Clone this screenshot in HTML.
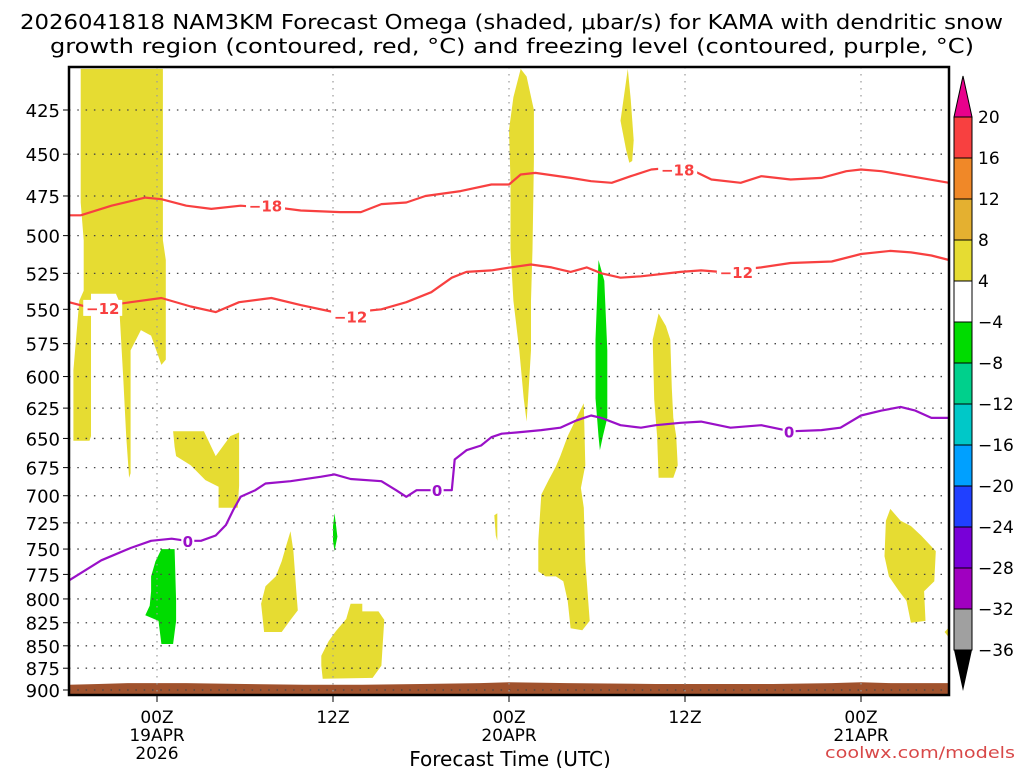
<!DOCTYPE html>
<html><head><meta charset="utf-8"><style>
html,body{margin:0;padding:0;background:#fff;width:1024px;height:768px;overflow:hidden}
svg{display:block;font-family:"DejaVu Sans","Liberation Sans",sans-serif}
</style></head><body>
<svg id="chart" width="1024" height="768" viewBox="0 0 1024 768" xmlns="http://www.w3.org/2000/svg">
<text x="20" y="29" font-size="20" textLength="983" lengthAdjust="spacingAndGlyphs">2026041818 NAM3KM Forecast Omega (shaded, μbar/s) for KAMA with dendritic snow</text>
<text x="50" y="53" font-size="20" textLength="924" lengthAdjust="spacingAndGlyphs">growth region (contoured, red, °C) and freezing level (contoured, purple, °C)</text>
<g id="shade"></g>
<g id="grid"></g>
<g id="lines"></g>
<g id="axes"></g>
<g id="cbar"></g>
<text x="510" y="766" font-size="20" text-anchor="middle">Forecast Time (UTC)</text>
<text x="1015" y="758" font-size="16" text-anchor="end" fill="#d84848" textLength="190" lengthAdjust="spacingAndGlyphs">coolwx.com/models</text>
</svg>
<script>
// ---- data ----
const pTicks=[425,450,475,500,525,550,575,600,625,650,675,700,725,750,775,800,825,850,875,900];
const xTickHours=[6,18,30,42,54];
const xTickLabels=[["00Z","19APR","2026"],["12Z"],["00Z","20APR"],["12Z"],["00Z","21APR"]];
const m18Hours=[0,0.8,2.9,5.2,6.3,8.0,9.7,11.7,13.1,14.1,15.8,18.5,19.9,21.3,23.0,24.3,26.7,28.8,30.0,30.8,31.8,34.2,35.6,37.0,38.3,39.7,41.0,42.4,43.8,45.8,47.2,49.2,51.3,53.0,54.0,55.4,60];
const m18Press=[487,487,481,476,477,481,483,481,482,482,484,485,485,480,479,475,472,468,468,462,461,464,466,467,463,459,458,459,465,467,463,465,464,460,459,460,467];
const m12Hours=[0,1.5,4.2,6.3,8.3,10.0,11.6,13.8,15.8,18.5,21.3,23.0,24.7,26.1,27.1,28.8,30.1,31.5,32.9,34.2,35.3,36.3,37.6,39.0,41.7,43.1,44.4,47.2,49.2,52.0,54.0,56.0,57.4,58.8,60];
const m12Press=[545,549,545,542,548,552,545,542,547,553,550,545,538,528,524,523,521,519,521,524,521,525,528,527,524,523,524,521,518,517,512,510,511,513,516];
const zHours=[0,2.2,4.2,5.6,7.0,8.0,9.0,10.0,10.7,11.2,11.7,12.7,13.4,15.1,17.2,18.1,19.2,21.3,22.3,23.0,23.7,25.4,26.1,26.3,27.1,28.1,28.8,29.5,30.5,32.2,33.5,34.6,35.6,36.3,37.6,39.0,40.0,41.7,43.1,45.1,47.2,49.2,51.3,52.6,54.0,55.4,56.7,57.7,58.8,60];
const zPress=[781,761,749,742,740,742,742,737,727,713,701,695,689,687,683,681,685,687,695,701,695,695,695,668,660,656,649,646,645,643,641,635,631,633,639,641,639,637,636,641,639,644,643,641,631,627,624,627,633,633];
const m18LabelPos=[[13.4,481],[41.5,459]];
const m12LabelPos=[[2.3,549],[19.2,555],[45.5,524]];
const zLabelPos=[[8.1,742],[25.1,695],[49.1,644]];
const groundHours=[0,2,4,8,12,16,20,24,28,30,34,40,48,52,54,56,60];
const groundPress=[894,893,892,892,893,894,894,893,892,891,892,893,893,892,891,892,892];
const yellowBlobs=[
 [[0.8,403],[6.4,403],[6.4,503],[6.6,516],[6.6,587],[6.3,591],[5.6,569],[4.9,565],[4.2,580],[4.2,680],[4.1,684],[3.9,648],[3.7,602],[3.4,544],[3.2,539],[1.5,539],[1.5,648],[1.4,652],[0.3,652],[0.3,595],[0.7,544],[1.0,537],[1.0,503],[0.8,479]],
 [[7.1,644],[9.2,644],[10.0,665],[11.0,648],[11.6,645],[11.6,691],[11.5,711],[10.2,711],[10.2,692],[9.3,686],[8.3,673],[7.3,665],[7.2,657]],
 [[30.0,436],[30.3,418],[30.8,403],[31.2,407],[31.7,425],[31.7,454],[31.6,509],[31.5,544],[31.5,580],[31.3,617],[31.2,636],[31.0,617],[30.7,580],[30.3,544],[30.1,509],[30.1,466]],
 [[37.6,431],[38.1,403],[38.3,419],[38.5,442],[38.4,454],[38.2,455],[38.0,448]],
 [[39.8,572],[40.2,553],[40.7,562],[41.0,572],[41.1,609],[41.2,633],[41.4,648],[41.5,673],[41.2,684],[40.2,684],[40.1,648],[39.9,618]],
 [[32.2,699],[32.7,686],[33.2,674],[33.5,665],[34.0,648],[34.6,633],[35.1,621],[35.2,673],[34.9,693],[35.1,711],[35.2,762],[35.5,823],[35.0,833],[34.2,831],[34.0,802],[33.7,782],[33.2,777],[32.5,777],[32.0,772],[32.0,742]],
 [[29.0,718],[29.2,716],[29.2,742],[29.1,737]],
 [[13.1,805],[13.4,787],[14.1,777],[14.5,762],[14.8,747],[15.1,733],[15.3,752],[15.5,792],[15.6,812],[15.1,822],[14.5,835],[13.3,835]],
 [[17.2,861],[17.7,845],[18.2,834],[18.9,821],[19.2,805],[20.0,805],[20.0,813],[21.1,813],[21.5,822],[21.4,845],[21.3,872],[20.7,886],[17.3,887],[17.2,872]],
 [[55.7,723],[56.0,712],[56.7,723],[57.4,728],[58.1,737],[59.1,752],[59.0,782],[58.3,792],[58.4,823],[57.4,825],[57.1,802],[56.6,792],[55.9,777],[55.6,757]],
 [[59.7,835],[60,830],[60,841]]
];
const greenBlobs=[
 [[5.6,777],[5.9,762],[6.3,750],[7.2,750],[7.3,802],[7.3,823],[7.1,848],[6.3,848],[6.1,823],[5.2,817],[5.5,807],[5.6,792]],
 [[35.9,572],[36.1,516],[36.5,530],[36.7,580],[36.7,633],[36.4,648],[36.2,660],[36.1,648],[35.9,617]],
 [[18.0,728],[18.1,716],[18.3,738],[18.1,752],[18.0,742]]
];
const cbarLevels=[20,16,12,8,4,-4,-8,-12,-16,-20,-24,-28,-32,-36];
const cbarColors=["#f84040","#f08828","#e4b030","#e6dc32","#ffffff","#00dc00","#00d08c","#00c8c8","#00a0ff","#2040ff","#7800d8","#a000c0","#a0a0a0"];
// ---- axes ----
const X0=69,X1=949,Y0=67,Y1=695,HMAX=60;
function xs(h){return X0+(X1-X0)*h/HMAX;}
function ys(p){return 110+773*Math.log(p/425);}
const NS="http://www.w3.org/2000/svg";
function mk(tag,attrs,parent){const e=document.createElementNS(NS,tag);for(const k in attrs)e.setAttribute(k,attrs[k]);parent.appendChild(e);return e;}
function pts(arr){return arr.map(d=>xs(d[0]).toFixed(1)+","+ys(d[1]).toFixed(1)).join(" ");}
const shade=document.getElementById('shade');
yellowBlobs.forEach(b=>{const e=mk('polygon',{points:pts(b),fill:'#e6dc32'},shade);

});
greenBlobs.forEach(b=>{const e=mk('polygon',{points:pts(b),fill:'#00dc00'},shade);

});
// ground
{let g=groundHours.map((h,i)=>[h,groundPress[i]]);let s=pts(g)+" "+xs(HMAX)+","+Y1+" "+xs(0)+","+Y1;
const e=mk('polygon',{points:s,fill:'#a0522d'},shade);

}
// grid
const grid=document.getElementById('grid');
pTicks.forEach(p=>{const e=mk('line',{x1:X0,x2:X1,y1:ys(p),y2:ys(p),stroke:'#444','stroke-width':1.3,'stroke-dasharray':'1.5,6.8'},grid);

});
xTickHours.forEach(h=>{const e=mk('line',{x1:xs(h),x2:xs(h),y1:Y0,y2:Y1,stroke:'#999','stroke-width':1.2,'stroke-dasharray':'1.5,5.5'},grid);

});
// contours
const lines=document.getElementById('lines');
function contour(hs,ps,color,name){const d=hs.map((h,i)=>(i?'L':'M')+xs(h).toFixed(1)+','+ys(ps[i]).toFixed(1)).join('');
const e=mk('path',{d:d,fill:'none',stroke:color,'stroke-width':2.2,'stroke-linejoin':'round'},lines);

}
contour(m18Hours,m18Press,'#f84040','contour-minus18');
contour(m12Hours,m12Press,'#f84040','contour-minus12');
contour(zHours,zPress,'#9a10c8','freezing-level-contour');
function clabel(pos,txt,color,name){pos.forEach(q=>{const x=xs(q[0]),y=ys(q[1]);
const r=mk('rect',{x:x-(txt.length*6.5),y:y-8,width:txt.length*13,height:16,fill:'#fff'},lines);


const t=mk('text',{x:x,y:y+6,'font-size':15,'font-weight':'bold','text-anchor':'middle',fill:color},lines);t.textContent=txt;

});}
clabel(m18LabelPos,'−18','#f84040','contour-label-minus18');
clabel(m12LabelPos,'−12','#f84040','contour-label-minus12');
clabel(zLabelPos,'0','#9a10c8','contour-label-zero');
// axes
const axes=document.getElementById('axes');
{const e=mk('rect',{x:X0,y:Y0,width:X1-X0,height:Y1-Y0,fill:'none',stroke:'#000','stroke-width':2.5},axes);

}
pTicks.forEach(p=>{const t=mk('text',{x:60,y:ys(p)+7,'font-size':18,'text-anchor':'end'},axes);t.textContent=p;


const l=mk('line',{x1:X0-6,x2:X0,y1:ys(p),y2:ys(p),stroke:'#000','stroke-width':1},axes);

});
xTickHours.forEach((h,i)=>{const l=mk('line',{x1:xs(h),x2:xs(h),y1:Y1,y2:Y1+7,stroke:'#000','stroke-width':1},axes);


xTickLabels[i].forEach((s,j)=>{const t=mk('text',{x:xs(h),y:723+j*18,'font-size':17,'text-anchor':'middle'},axes);t.textContent=s;

});});
// colorbar
const cb=document.getElementById('cbar');
const CX=954,CW=18,CTop=117,CStep=41;
{const e=mk('polygon',{points:`${CX},${CTop} ${CX+CW},${CTop} ${CX+CW/2},${CTop-41}`,fill:'#e8008c',stroke:'#000','stroke-width':1},cb);

}
cbarColors.forEach((c,i)=>{const e=mk('rect',{x:CX,y:CTop+i*CStep,width:CW,height:CStep,fill:c,stroke:'#000','stroke-width':1},cb);

});
{const yb=CTop+cbarColors.length*CStep;const e=mk('polygon',{points:`${CX},${yb} ${CX+CW},${yb} ${CX+CW/2},${yb+41}`,fill:'#000'},cb);

}
cbarLevels.forEach((v,i)=>{const t=mk('text',{x:978,y:CTop+i*CStep+6,'font-size':17},cb);t.textContent=(v<0?'−':'')+Math.abs(v);

});
</script>
</body></html>
